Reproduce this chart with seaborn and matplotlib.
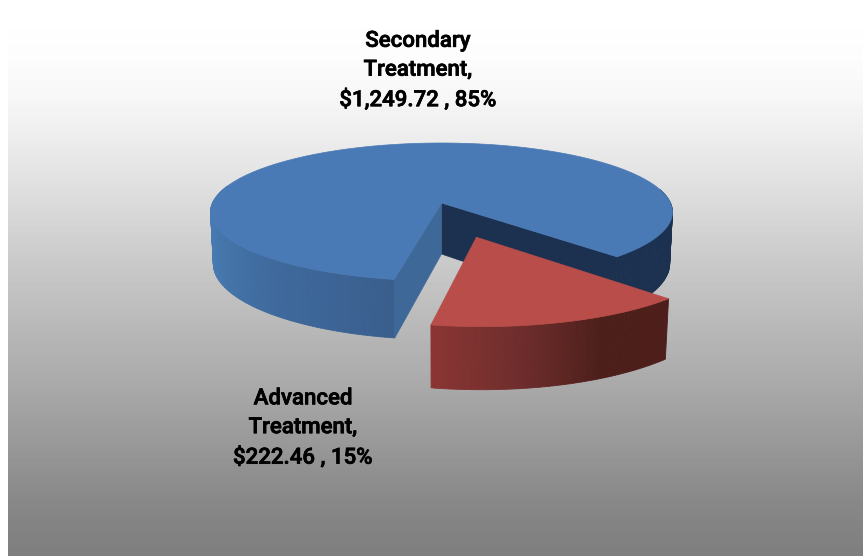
import numpy as np
import seaborn as sns
import matplotlib.pyplot as plt
import matplotlib.patheffects as pe
from matplotlib.collections import PolyCollection

names = ["Secondary\nTreatment,", "Advanced\nTreatment,"]
values = [1249.72, 222.46]
percents = [85, 15]

sns.set_theme(style="white")
plt.rcParams['font.family'] = ['Roboto', 'DejaVu Sans']

W, H = 863, 556
fig = plt.figure(figsize=(W / 100, H / 100), dpi=100, facecolor="white")
ax = fig.add_axes([0, 0, 1, 1])
ax.set_xlim(0, W)
ax.set_ylim(H, 0)
ax.axis("off")

# backdrop, stays near white for a while and then falls to grey
bg_y = np.arange(12, H)
bg_shade = np.interp(bg_y, [12, 60, 100, 167, 267, 400, 500, 556],
                     [255, 252, 246, 229, 200, 165, 136, 126])
ax.imshow(bg_shade[:, None], cmap="gray", vmin=0, vmax=255, aspect="auto",
          extent=(8, W, H, 12), zorder=0)
ax.set_xlim(0, W)
ax.set_ylim(H, 0)

# pie geometry, disc coords go through a perspective projection
cx, cy = 441.5, 203
rx, ry = 229, 67.8
persp = 0.13
depth = 51
explode = 0.495


def project(x, y, low=False):
    w = 1 + persp * y
    px = cx + rx * x / (w + (0.012 if low else 0))
    py = cy - ry * y / w + (depth / w if low else 0)
    return np.column_stack([px, py])


def rim(a0, a1, dx=0, dy=0, low=False, n=90):
    t = np.radians(np.linspace(a0, a1, n))
    return project(np.cos(t) + dx, np.sin(t) + dy, low)


def shaded_rim(a0, a1, colors, dx=0, dy=0, z=2):
    top = rim(a0, a1, dx, dy, n=len(colors) + 1)
    low = rim(a0, a1, dx, dy, low=True, n=len(colors) + 1)
    quads = [[top[i], top[i + 1], low[i + 1], low[i]] for i in range(len(colors))]
    ax.add_collection(PolyCollection(quads, facecolors=colors, edgecolors=colors,
                                     linewidths=0.6, zorder=z))


share = np.array(values) / sum(values) * 360
start = -46
end = start - share[1]
mid = np.radians((start + end) / 2)
ox, oy = explode * np.cos(mid), explode * np.sin(mid)

apex_top = project(np.array([0.0]), np.array([0.0]))
apex_low = project(np.array([0.0]), np.array([0.0]), low=True)

# blue slice: far side walls first, top last
a = rim(start, start)[0]
b = rim(start, start, low=True)[0]
ax.fill(*np.array([apex_top[0], a, b, apex_low[0]]).T, color="#1c3150", lw=0.5, zorder=1)
shaded_rim(start, 12, ["#1c3150"] * 40)
shaded_rim(165, 360 + end, sns.blend_palette(["#4a7cb6", "#467ab0", "#3f6a9e", "#3a5f8e"], 90))
a = rim(end, end)[0]
b = rim(end, end, low=True)[0]
ax.fill(*np.array([apex_top[0], a, b, apex_low[0]]).T, color="#3e6898", lw=0.5, zorder=3)
top = np.vstack([apex_top, rim(start, 360 + end, n=300)])
ax.fill(*top.T, color="#4a7ab5", lw=0.5, zorder=4)

# red slice pulled out towards the viewer
shaded_rim(end, start, sns.blend_palette(["#8a3533", "#6e2d2c", "#4d1f1b", "#4d1e1a"], 60),
           ox, oy, z=5)
o = project(np.array([ox]), np.array([oy]))
top = np.vstack([o, rim(end, start, ox, oy, n=90)])
ax.fill(*top.T, color="#b84d49", lw=0.5, zorder=6)

# labels
label_pos = [(418, 71), (303, 428.5)]
for name, v, p, (lx, ly) in zip(names, values, percents, label_pos):
    t = ax.text(lx, ly, f"{name}\n${v:,.2f} , {p}%", ha="center", va="center",
                fontsize=16, fontweight="medium", color="black", linespacing=1.49, zorder=7)
    t.set_path_effects([pe.withStroke(linewidth=0.5, foreground="black")])

fig.savefig("out.png", dpi=100, facecolor="white")
